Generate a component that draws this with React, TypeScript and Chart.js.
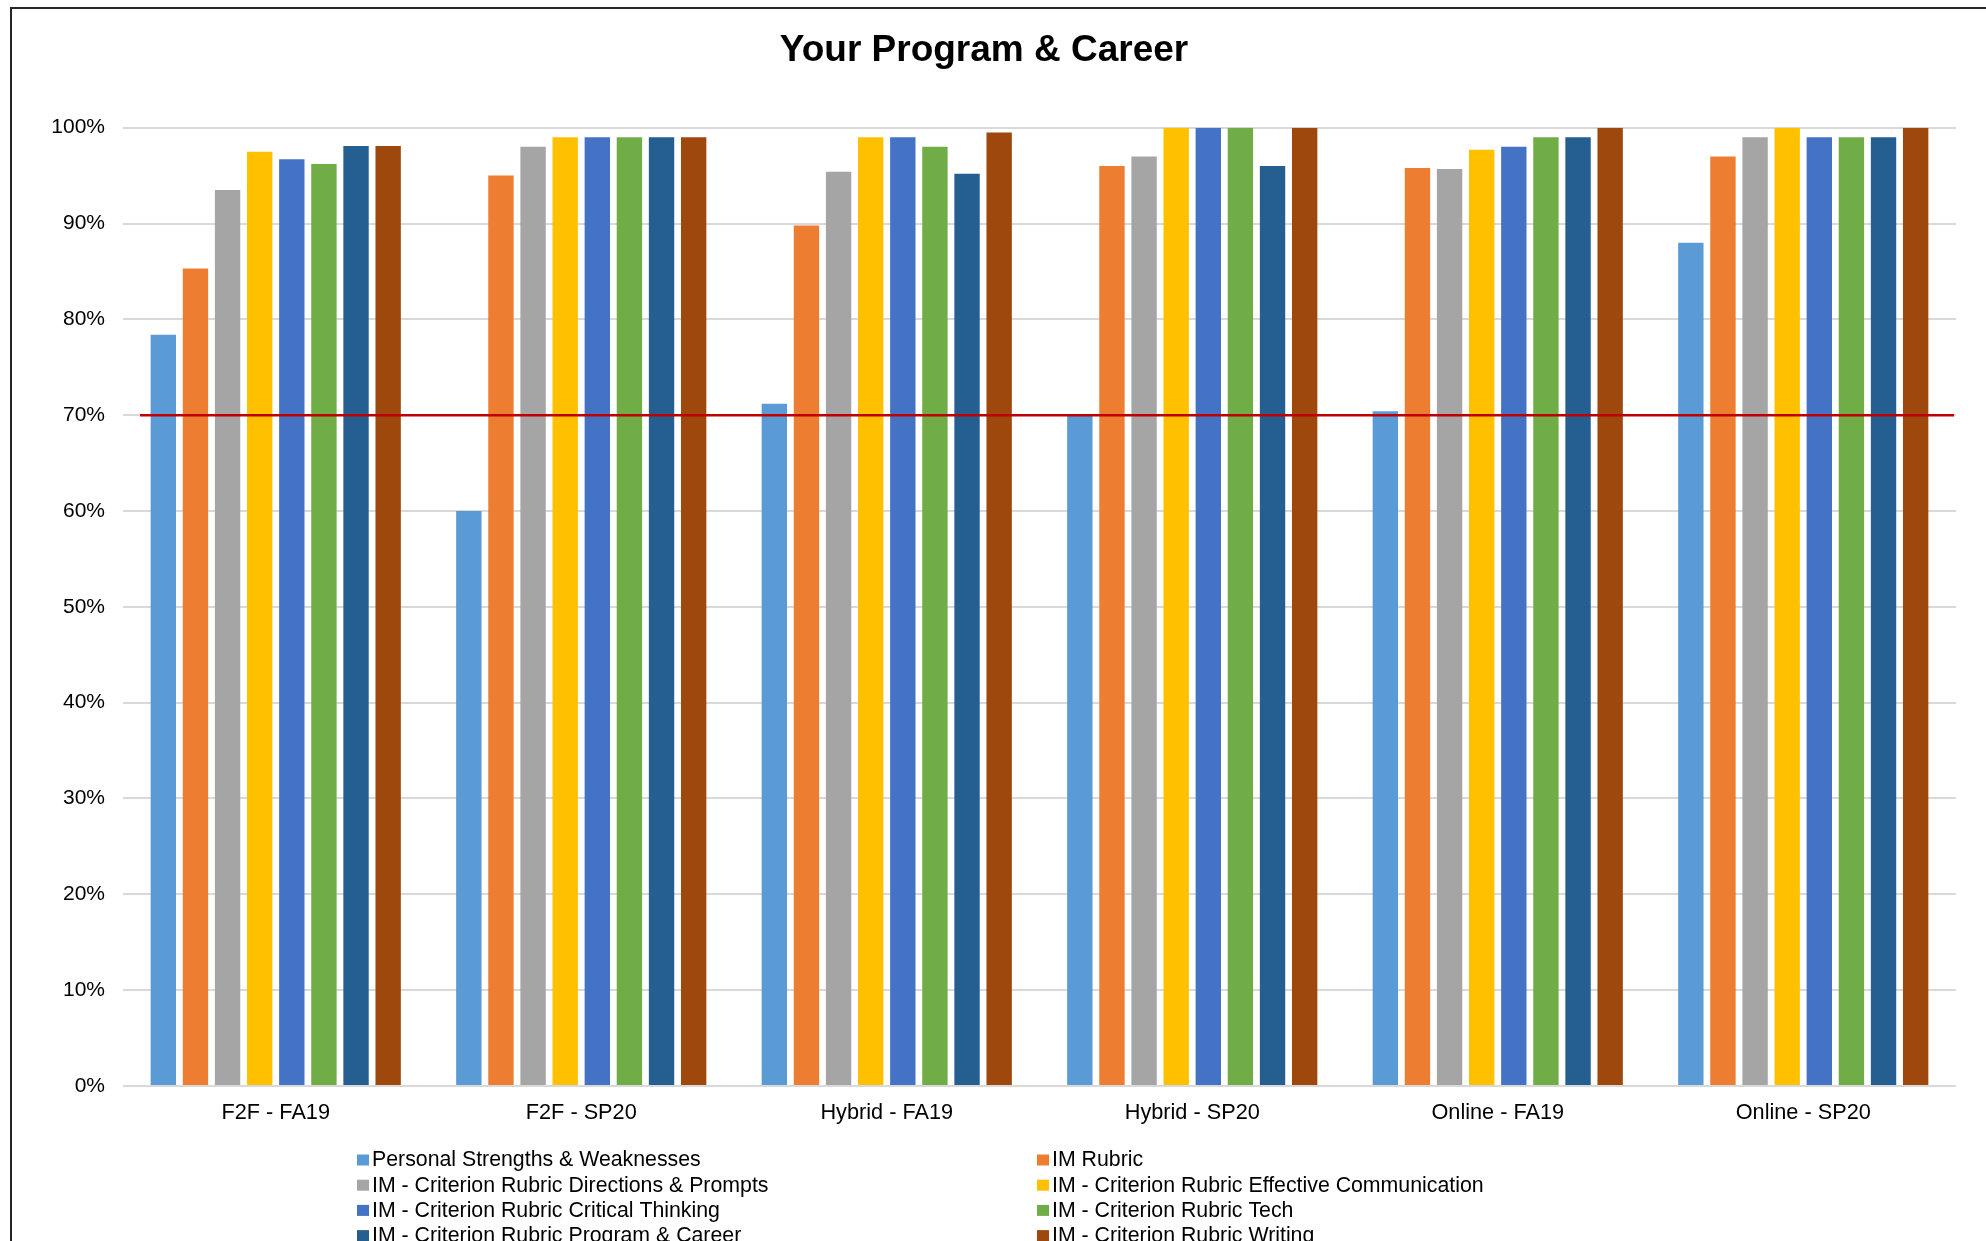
import React, { useEffect, useRef } from "react";
import { Chart, registerables } from "chart.js";

Chart.register(...registerables);

const FONT = '"Liberation Sans", Arial, sans-serif';

const categories = [
  "F2F - FA19",
  "F2F - SP20",
  "Hybrid - FA19",
  "Hybrid - SP20",
  "Online - FA19",
  "Online - SP20",
];

const seriesNames = [
  "Personal Strengths & Weaknesses",
  "IM Rubric",
  "IM - Criterion Rubric Directions & Prompts",
  "IM - Criterion Rubric Effective Communication",
  "IM - Criterion Rubric Critical Thinking",
  "IM - Criterion Rubric Tech",
  "IM - Criterion Rubric Program & Career",
  "IM - Criterion Rubric Writing",
];

const seriesColors = [
  "#5B9BD5",
  "#ED7D31",
  "#A5A5A5",
  "#FFC000",
  "#4472C4",
  "#70AD47",
  "#255E91",
  "#9E480E",
];

// values in percent
const personalStrengths = [78.4, 60.0, 71.2, 70.0, 70.4, 88.0];
const imRubric = [85.3, 95.0, 89.8, 96.0, 95.8, 97.0];
const directionsPrompts = [93.5, 98.0, 95.4, 97.0, 95.7, 99.0];
const effectiveCommunication = [97.5, 99.0, 99.0, 100, 97.7, 100];
const criticalThinking = [96.7, 99.0, 99.0, 100, 98.0, 99.0];
const tech = [96.2, 99.0, 98.0, 100, 99.0, 99.0];
const programCareer = [98.1, 99.0, 95.2, 96.0, 99.0, 99.0];
const writing = [98.1, 99.0, 99.5, 100, 100, 100];

const seriesValues = [
  personalStrengths,
  imRubric,
  directionsPrompts,
  effectiveCommunication,
  criticalThinking,
  tech,
  programCareer,
  writing,
];

const Y_MIN = 0;
const Y_MAX = 100;
const Y_STEP = 10;
const TARGET = 70;

const CANVAS_W = 1946;
const CANVAS_H = 1311;

// legend layout (canvas-relative)
const LEGEND_X = 345;
const LEGEND_Y = 1151.5;
const LEGEND_COL_GAP = 680;
const LEGEND_ROW_GAP = 25.2;

const targetLinePlugin = {
  id: "targetLine",
  afterDatasetsDraw(chart: any) {
    const { ctx, chartArea } = chart;
    const y = chart.scales.y.getPixelForValue(TARGET);
    ctx.save();
    ctx.strokeStyle = "#C00000";
    ctx.lineWidth = 2.5;
    ctx.beginPath();
    ctx.moveTo(chartArea.left + 17, y);
    ctx.lineTo(chartArea.right - 2, y);
    ctx.stroke();
    ctx.restore();
  },
};

const gridLegendPlugin = {
  id: "gridLegend",
  afterDraw(chart: any) {
    const ctx = chart.ctx;
    ctx.save();
    ctx.font = `21.3px ${FONT}`;
    ctx.textBaseline = "middle";
    ctx.textAlign = "left";
    chart.data.datasets.forEach((ds: any, i: number) => {
      const col = i % 2;
      const row = Math.floor(i / 2);
      const x = LEGEND_X + col * LEGEND_COL_GAP;
      const y = LEGEND_Y + row * LEGEND_ROW_GAP;
      ctx.fillStyle = ds.backgroundColor;
      ctx.fillRect(x, y - 6, 12, 11);
      ctx.fillStyle = "#000000";
      ctx.fillText(ds.label, x + 15, y);
    });
    ctx.restore();
  },
};

export default function App() {
  const canvasRef = useRef<HTMLCanvasElement | null>(null);

  useEffect(() => {
    if (!canvasRef.current) return;
    const chart = new Chart(canvasRef.current, {
      type: "bar",
      data: {
        labels: categories,
        datasets: seriesNames.map((name, i) => ({
          label: name,
          data: seriesValues[i],
          backgroundColor: seriesColors[i],
          borderWidth: 0,
          categoryPercentage: 0.841,
          barPercentage: 0.79,
        })),
      },
      options: {
        responsive: false,
        animation: false,
        devicePixelRatio: 1,
        layout: { padding: { left: 0, right: 2, top: 0, bottom: 180 } },
        plugins: {
          legend: { display: false },
          tooltip: { enabled: false },
          title: {
            display: true,
            text: "Your Program & Career",
            color: "#000000",
            font: { size: 37, weight: "bold", family: FONT },
            padding: { top: 19.5, bottom: 54.8 },
          },
        },
        scales: {
          x: {
            grid: { display: false, drawTicks: false },
            border: { display: false },
            ticks: {
              color: "#000000",
              font: { size: 21.7, family: FONT },
              padding: 14,
              maxRotation: 0,
              autoSkip: false,
            },
          },
          y: {
            min: Y_MIN,
            max: Y_MAX,
            border: { display: false },
            grid: { color: "#D9D9D9", lineWidth: 2, drawTicks: false },
            afterFit: (scale: any) => {
              scale.width = 111;
            },
            ticks: {
              stepSize: Y_STEP,
              color: "#000000",
              font: { size: 21, family: FONT },
              padding: 18,
              callback: (v: any) => `${v}%`,
            },
          },
        },
      },
      plugins: [targetLinePlugin, gridLegendPlugin],
    });
    return () => chart.destroy();
  }, []);

  return (
    <div
      style={{
        position: "fixed",
        left: 0,
        top: 0,
        width: 1986,
        height: 1241,
        overflow: "hidden",
        background: "#ffffff",
      }}
    >
      <div
        style={{
          position: "absolute",
          left: 10,
          top: 7,
          width: 2100,
          height: 1400,
          border: "2px solid #262626",
          background: "#ffffff",
        }}
      >
        <canvas
          ref={canvasRef}
          width={CANVAS_W}
          height={CANVAS_H}
          style={{
            position: "absolute",
            left: 0,
            top: 0,
            width: CANVAS_W,
            height: CANVAS_H,
          }}
        />
      </div>
    </div>
  );
}
